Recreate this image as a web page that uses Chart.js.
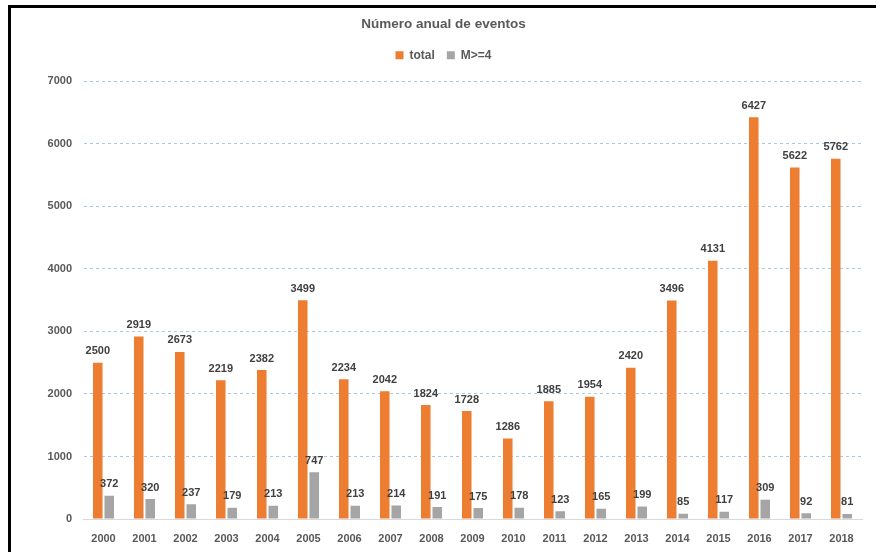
<!doctype html>
<html lang="es">
  <head>
    <meta charset="UTF-8" />
    <title>Número anual de eventos</title>
    <style>
      body {
        margin: 0;
        background: #fff;
        font-family: 'Liberation Sans', sans-serif;
        overflow: hidden;
      }
      .frame {
        position: absolute;
        left: 8px;
        top: 5px;
        width: 900px;
        height: 600px;
        border: 3px solid #000;
      }
      .wrap {
        position: absolute;
        left: 11px;
        top: 8px;
        width: 865px;
        height: 544px;
      }
    </style>
  </head>
  <body>
    <div class="frame"></div>
    <div class="wrap"><canvas id="chart"></canvas></div>

    <script src="https://cdn.jsdelivr.net/npm/chart.js"></script>
    <script>
      const years = ['2000', '2001', '2002', '2003', '2004', '2005', '2006', '2007', '2008', '2009',
        '2010', '2011', '2012', '2013', '2014', '2015', '2016', '2017', '2018'];
      const totalEvents = [2500, 2919, 2673, 2219, 2382, 3499, 2234, 2042, 1824, 1728,
        1286, 1885, 1954, 2420, 3496, 4131, 6427, 5622, 5762];
      const bigEvents = [372, 320, 237, 179, 213, 747, 213, 214, 191, 175,
        178, 123, 165, 199, 85, 117, 309, 92, 81];
      const yTicks = [0, 1000, 2000, 3000, 4000, 5000, 6000, 7000];

      const textGrey = '#595959';
      const fontFamily = "'Liberation Sans', sans-serif";

      // writes each bar's value just above it
      const valueLabels = {
        id: 'valueLabels',
        afterDatasetsDraw(chart) {
          const ctx = chart.ctx;
          ctx.save();
          ctx.font = 'bold 11px ' + fontFamily;
          ctx.fillStyle = '#404040';
          ctx.textAlign = 'center';
          ctx.textBaseline = 'bottom';
          chart.data.datasets.forEach((ds, i) => {
            chart.getDatasetMeta(i).data.forEach((bar, j) => {
              ctx.fillText(ds.data[j], bar.x, bar.y - 6);
            });
          });
          ctx.restore();
        }
      };

      new Chart(document.getElementById('chart'), {
        type: 'bar',
        data: {
          labels: years,
          datasets: [
            {
              label: 'total',
              data: totalEvents,
              backgroundColor: '#ED7D31',
              categoryPercentage: 0.56,
              barPercentage: 0.83
            },
            {
              label: 'M>=4',
              data: bigEvents,
              backgroundColor: '#A5A5A5',
              categoryPercentage: 0.56,
              barPercentage: 0.83
            }
          ]
        },
        options: {
          responsive: true,
          maintainAspectRatio: false,
          animation: false,
          layout: { padding: { left: 14, right: 14, top: 0, bottom: 0 } },
          plugins: {
            title: {
              display: true,
              text: 'Número anual de eventos',
              color: textGrey,
              font: { family: fontFamily, size: 13.5, weight: 'bold' },
              padding: { top: 8, bottom: 5 }
            },
            legend: {
              display: true,
              weight: 1600,
              labels: {
                color: textGrey,
                font: { family: fontFamily, size: 12, weight: 'bold' },
                boxWidth: 8,
                boxHeight: 8,
                padding: 12
              }
            },
            // empty spacer between the legend and the plot
            subtitle: {
              display: true,
              text: ' ',
              weight: 1000,
              font: { size: 1 },
              padding: { top: 0, bottom: 9 }
            },
            tooltip: { enabled: false }
          },
          scales: {
            x: {
              grid: { display: false },
              border: { color: '#d9d9d9', width: 1 },
              ticks: {
                color: textGrey,
                font: { family: fontFamily, size: 11, weight: 'bold' },
                padding: 5,
                maxRotation: 0
              },
              afterFit(scale) { scale.height = 33; }
            },
            y: {
              min: 0,
              max: 7000,
              afterBuildTicks(scale) { scale.ticks = yTicks.map(v => ({ value: v })); },
              grid: {
                color: ctx => (ctx.tick && ctx.tick.value === 0 ? 'rgba(0,0,0,0)' : '#a9c8e6'),
                drawTicks: false
              },
              border: { display: true, color: 'rgba(0,0,0,0)', dash: [3, 3] },
              ticks: {
                color: textGrey,
                font: { family: fontFamily, size: 11, weight: 'bold' },
                padding: 11,
                callback: v => String(v)
              },
              afterFit(scale) { scale.width = 58; }
            }
          }
        },
        plugins: [valueLabels]
      });
    </script>
  </body>
</html>
